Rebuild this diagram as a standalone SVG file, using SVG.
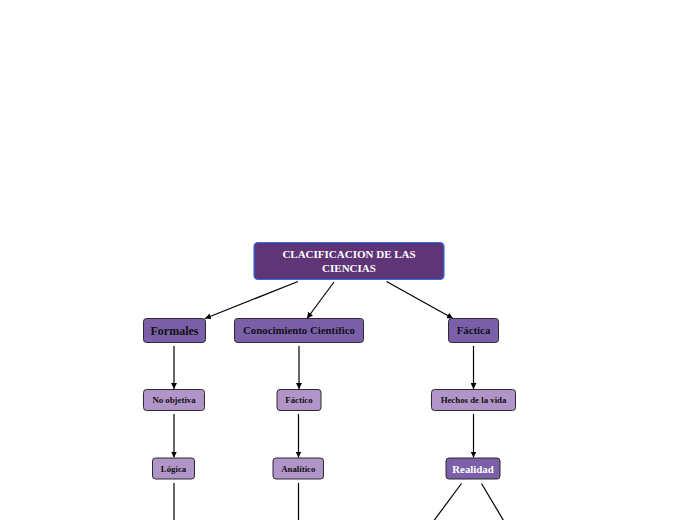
<svg xmlns="http://www.w3.org/2000/svg" width="696" height="520" viewBox="0 0 696 520">
<defs>
<style>
.root{fill:#5f3577;stroke:#2f6ee6;stroke-width:1.2}
.mid{fill:#7b60a9;stroke:#2b2b2b;stroke-width:1}
.light{fill:#b195c8;stroke:#2b2b2b;stroke-width:1}
text{font-family:"Liberation Serif","Times New Roman",serif;font-weight:bold;text-anchor:middle}
.w{fill:#ffffff}
.k{fill:#111111}
.edge{stroke:#000;stroke-width:1.2;fill:none}
</style>
<marker id="ah" viewBox="0 0 10 10" refX="10" refY="5" markerWidth="6" markerHeight="6" markerUnits="userSpaceOnUse" orient="auto">
<path d="M0,0 L10,5 L0,10 z" fill="#000"/>
</marker>
</defs>
<rect width="696" height="520" fill="#ffffff"/>
<g id="connectors">
<line class="edge" x1="298" y1="281.5" x2="205" y2="318.5" marker-end="url(#ah)"/>
<line class="edge" x1="334" y1="282" x2="307" y2="318.5" marker-end="url(#ah)"/>
<line class="edge" x1="386.5" y1="281.5" x2="453" y2="318.5" marker-end="url(#ah)"/>
<line class="edge" x1="174" y1="346" x2="174" y2="389" marker-end="url(#ah)"/>
<line class="edge" x1="299" y1="346" x2="299" y2="389" marker-end="url(#ah)"/>
<line class="edge" x1="473.5" y1="346" x2="473.5" y2="389" marker-end="url(#ah)"/>
<line class="edge" x1="174" y1="414" x2="174" y2="457.5" marker-end="url(#ah)"/>
<line class="edge" x1="298.5" y1="414" x2="298.5" y2="457.5" marker-end="url(#ah)"/>
<line class="edge" x1="473.5" y1="414" x2="473.5" y2="457.5" marker-end="url(#ah)"/>
<line class="edge" x1="174" y1="483" x2="174" y2="521"/>
<line class="edge" x1="298.5" y1="483" x2="298.5" y2="521"/>
<line class="edge" x1="461.5" y1="483.5" x2="434" y2="520.5"/>
<line class="edge" x1="481.5" y1="483.5" x2="503.5" y2="520.5"/>
</g>
<g id="n-root">
<rect class="root" x="254" y="242.5" width="190" height="37" rx="4"/>
<text class="w" x="349" y="258" font-size="11">CLACIFICACION DE LAS</text>
<text class="w" x="349" y="271.5" font-size="11">CIENCIAS</text>
</g>
<g id="n-formales">
<rect class="mid" x="143.5" y="318.5" width="62" height="24" rx="3"/>
<text class="k" x="174.5" y="334.5" font-size="12">Formales</text>
</g>
<g id="n-conocimiento">
<rect class="mid" x="234.5" y="318.5" width="129" height="24" rx="3"/>
<text class="k" x="299" y="334" font-size="10.8">Conocimiento Científico</text>
</g>
<g id="n-factica">
<rect class="mid" x="448.5" y="318.5" width="50" height="24" rx="3"/>
<text class="k" x="473.5" y="334" font-size="10.8">Fáctica</text>
</g>
<g id="n-noobjetiva">
<rect class="light" x="143.5" y="389.5" width="61" height="21" rx="3"/>
<text class="k" x="174" y="403" font-size="8.8">No objetiva</text>
</g>
<g id="n-factico">
<rect class="light" x="277" y="389.5" width="44" height="21" rx="3"/>
<text class="k" x="299" y="403" font-size="8.8">Fáctico</text>
</g>
<g id="n-hechos">
<rect class="light" x="431.5" y="389.5" width="84" height="21" rx="3"/>
<text class="k" x="473.5" y="403" font-size="8.8">Hechos de la vida</text>
</g>
<g id="n-logica">
<rect class="light" x="152.5" y="458" width="42" height="21" rx="3"/>
<text class="k" x="173.5" y="471.5" font-size="8.8">Lógica</text>
</g>
<g id="n-analitico">
<rect class="light" x="273" y="458" width="50.5" height="21" rx="3"/>
<text class="k" x="298.3" y="471.5" font-size="8.8">Analítico</text>
</g>
<g id="n-realidad">
<rect class="mid" x="446" y="458" width="54" height="21" rx="3"/>
<text class="w" x="473" y="472.5" font-size="10.8">Realidad</text>
</g>
</svg>
